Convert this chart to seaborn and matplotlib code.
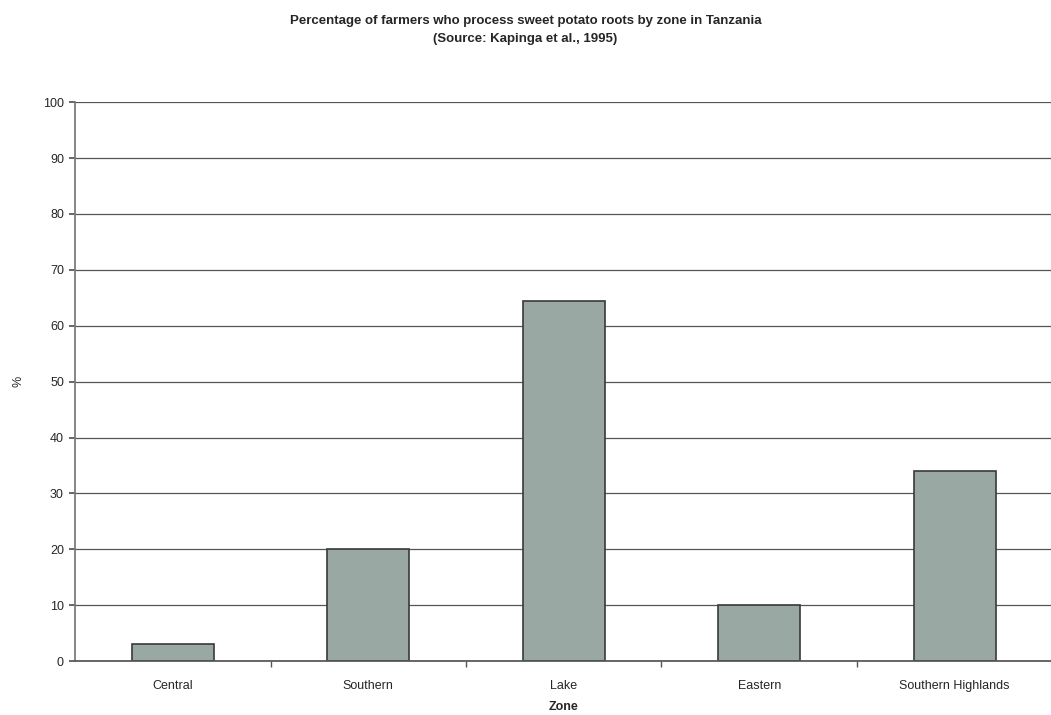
import matplotlib
matplotlib.use("Agg")
import matplotlib.pyplot as plt
import seaborn as sns
import pandas as pd

zones = ["Central", "Southern", "Lake", "Eastern", "Southern Highlands"]
percent = [3, 20, 64.5, 10, 34]
y_ticks = [0, 10, 20, 30, 40, 50, 60, 70, 80, 90, 100]

sns.set_theme(style="white")
plt.rcParams["font.family"] = ["Liberation Sans", "DejaVu Sans"]

df = pd.DataFrame({"Zone": zones, "Percent": percent})

fig = plt.figure(figsize=(10.51, 7.15), dpi=100)
ax = fig.add_axes([0.0714, 0.0755, 0.93, 0.7815])

ax.yaxis.grid(True, color="#555555", linewidth=0.9)
ax.set_axisbelow(True)

sns.barplot(data=df, x="Zone", y="Percent", ax=ax, color="#9aa8a4",
            width=0.42, edgecolor="#3a3a3a", linewidth=1.2, saturation=1)

ax.set_ylim(0, 100)
ax.set_yticks(y_ticks)
ax.set_xlim(-0.5, len(zones) - 0.5)
ax.set_xticks([i + 0.5 for i in range(len(zones) - 1)], minor=True)
ax.tick_params(axis="y", labelsize=9, length=4, color="#555555", pad=4, left=True)
ax.tick_params(axis="x", which="major", labelsize=9, length=0, pad=14)
ax.tick_params(axis="x", which="minor", length=4, color="#555555", bottom=True)

for side in ["top", "right"]:
    ax.spines[side].set_visible(False)
ax.spines["left"].set_color("#777777")
ax.spines["bottom"].set_color("#555555")

ax.set_ylabel("%", fontsize=9, rotation=90)
ax.yaxis.set_label_coords(-0.052, 0.5)
ax.set_xlabel("Zone", fontsize=9, fontweight="bold", labelpad=6)

fig.suptitle("Percentage of farmers who process sweet potato roots by zone in Tanzania\n(Source: Kapinga et al., 1995)",
             fontsize=9.5, fontweight="bold", y=0.979, linespacing=1.7)

fig.savefig("out.png", dpi=100)
